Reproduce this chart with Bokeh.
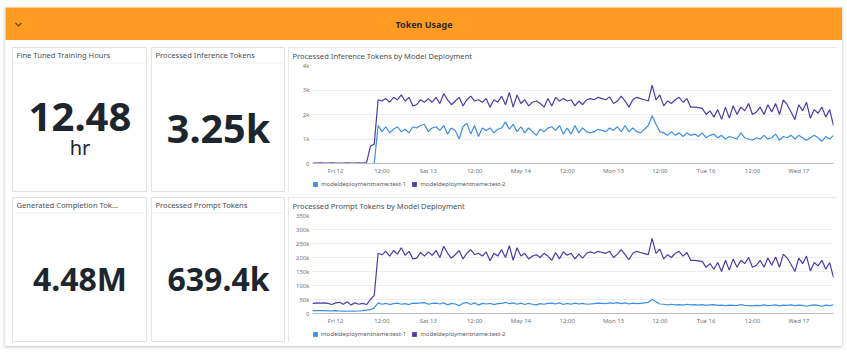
from bokeh.plotting import figure
from bokeh.layouts import column, row
from bokeh.models import Range1d, FixedTicker, Legend, LegendItem
from bokeh.core.properties import value
from bokeh.embed import file_html
from bokeh.resources import INLINE

FONT = "Noto Sans"
BLUE = "#3d8fe4"
PURPLE = "#4f3ba9"
ORANGE = "#ff9b23"
BORDER = "#dfe2e6"
NAN = float("nan")

# ---------------- data ----------------
HOURS = list(range(-6, 130))  # hours since Fri 12 00:00 (May 2023)

INF_TEST1 = [
    0, 0, 0, 0, 0, 0, 0, 0, 0, 0, 0, 0, 0, 0, 0,
    0, 0,
    1550, 1300, 1500, 1250, 1400, 1500, 1300, 1400, 1250, 1500,
    1450, 1550, 1600, 1300, 1450, 1500, 1350, 1550, 1200, 1450,
    1350, 1000, 1500, 1650, 1200, 1550, 1100, 1450, 1350, 1450,
    1250, 1400, 1450, 1700, 1400, 1600, 1300, 1500, 1250, 1450,
    1300, 1150, 1400, 1300, 1450, 1500, 1350, 1550, 1200,
    1450, 1200, 1550, 1250, 1450, 1300, 1250, 1300, 1400, 1350,
    1300, 1450, 1350, 1500, 1300, 1550, 1300, 1450, 1300, 1250,
    1400, 1550, 1950, 1600, 1300, 1250, 1150, 1300, 1150, 1250,
    1100, 1250, 1150, 1200, 1100, 1250, 1050, 1150, 1200, 1050,
    1150, 1000, 1100, 1050, 1000, 1250, 1050, 1000, 950, 1050,
    1000, 1150, 1000, 1050, 1200, 950, 1100, 1050, 1150, 1000,
    1150, 1050, 950, 1050, 1150, 1050, 900, 1100, 1000, 1150,
]

INF_TEST2 = [
    20, 20, 30, 20, 20, 30, 20, 20, 20, 30, 20, 20, 30, 20, 40,
    700, 800,
    2600, 2550, 2650, 2500, 2700, 2600, 2800, 2550, 2700, 2350,
    2400, 2600, 2500, 2650, 2500, 2700, 2450, 2850, 2600, 2400,
    2550, 2700, 2350, 2600, 2750, 2550, 2600, 2500, 2650, 2300,
    2600, 2500, 2750, 2400, 2900, 2300, 2800, 2450, 2600, 2350,
    2500, 2550, 2450, 2300, 2650, 2350, 2700, 2550, 2650,
    2550, 2600, 2350, 2550, 2400, 2600, 2650, 2600, 2700, 2650,
    2600, 2720, 2450, 2550, 2750, 2550, 2300, 2600, 2700, 2650,
    2600, 2550, 3200, 2600, 2800, 2350, 2550, 2450, 2600, 2700,
    2500, 2650, 2300, 2300, 2280, 2250, 2000, 2150, 1900, 2200,
    1800, 2300, 1850, 2350, 2000, 2300, 2150, 2450, 2000, 2100,
    2300, 2000, 2400, 2100, 2450, 2000, 2600, 2400, 2100, 1800,
    2400, 2150, 2500, 1850, 2200, 2050, 2300, 1900, 2200, 1550,
]

PROMPT_TEST1 = [
    10000, 10000, 10500, 10000, 9500, 9500, 10000, 9000, 8500, 8000,
    8500, 8000, 9000, 10000, 12000,
    14000, 20000,
    38000, 33000, 36000, 32000, 35000, 37000, 33000, 35000, 32000, 37000,
    36000, 38000, 39000, 33000, 36000, 37000, 34000, 38000, 31000, 36000,
    34000, 28000, 37000, 39000, 32000, 38000, 30000, 36000, 34000, 36000,
    32000, 35000, 36000, 40000, 35000, 38000, 33000, 37000, 32000, 36000,
    33000, 31000, 35000, 33000, 36000, 37000, 34000, 38000, 32000,
    36000, 33000, 37000, 34000, 36000, 33000, 34000, 35000, 37000, 36000,
    35000, 38000, 36000, 39000, 35000, 38000, 34000, 37000, 35000, 36000,
    38000, 40000, 50000, 42000, 34000, 33000, 31000, 33000, 31000, 32000,
    30000, 33000, 31000, 32000, 30000, 32000, 29000, 31000, 32000, 29000,
    30000, 28000, 30000, 29000, 28000, 32000, 29000, 28000, 27000, 29000,
    28000, 31000, 28000, 29000, 31000, 27000, 30000, 29000, 31000, 28000,
    30000, 29000, 26000, 29000, 31000, 29000, 26000, 30000, 28000, 31000,
]

PROMPT_TEST2 = [
    35000, 38000, 37000, 38000, 36000, 32000, 38000, 40000, 33000, 42000,
    30000, 38000, 33000, 36000, 32000,
    50000, 65000,
    215000, 210000, 222000, 205000, 225000, 212000, 235000, 208000, 222000, 195000,
    198000, 218000, 205000, 220000, 208000, 225000, 200000, 240000, 215000, 198000,
    210000, 225000, 195000, 215000, 228000, 210000, 215000, 205000, 220000, 188000,
    215000, 205000, 228000, 200000, 242000, 190000, 235000, 205000, 215000, 195000,
    205000, 210000, 200000, 215000, 205000, 190000, 218000, 195000, 220000,
    208000, 215000, 195000, 212000, 198000, 215000, 220000, 215000, 222000, 218000,
    215000, 222000, 200000, 212000, 228000, 210000, 192000, 215000, 222000, 218000,
    214000, 210000, 268000, 215000, 230000, 195000, 210000, 200000, 215000, 222000,
    205000, 218000, 190000, 190000, 188000, 186000, 165000, 178000, 158000, 182000,
    150000, 190000, 155000, 195000, 165000, 190000, 178000, 200000, 165000, 172000,
    190000, 165000, 198000, 172000, 202000, 165000, 212000, 198000, 175000, 150000,
    198000, 178000, 205000, 152000, 182000, 170000, 190000, 158000, 182000, 128000,
]

X_TICKS = [0, 12, 24, 36, 48, 60, 72, 84, 96, 108, 120]
X_LABELS = ["Fri 12", "12:00", "Sat 13", "12:00", "May 14", "12:00",
            "Mon 15", "12:00", "Tue 16", "12:00", "Wed 17"]
INF_Y_TICKS = [0, 1000, 2000, 3000, 4000]
INF_Y_LABELS = ["0", "1k", "2k", "3k", "4k"]
PROMPT_Y_TICKS = [0, 50000, 100000, 150000, 200000, 250000, 300000, 350000]
PROMPT_Y_LABELS = ["0", "50k", "100k", "150k", "200k", "250k", "300k", "350k"]

SERIES_NAMES = ["modeldeploymentname:test-1", "modeldeploymentname:test-2"]
STAT_TITLES = ["Fine Tuned Training Hours", "Processed Inference Tokens",
               "Generated Completion Tok...", "Processed Prompt Tokens"]
STAT_VALUES = ["12.48", "3.25k", "4.48M", "639.4k"]
STAT_UNITS = ["hr", "", "", ""]

for arr in (INF_TEST1, INF_TEST2, PROMPT_TEST1, PROMPT_TEST2):
    assert len(arr) == len(HOURS), len(arr)


# ---------------- helpers ----------------
def blank_fig(w, h, bg="white", **kw):
    p = figure(width=w, height=h, x_range=Range1d(0, w), y_range=Range1d(h, 0),
               output_backend="svg", toolbar_location=None, min_border=0,
               x_axis_location=None, y_axis_location=None, **kw)
    p.grid.visible = False
    p.background_fill_color = bg
    p.border_fill_color = bg
    p.outline_line_color = None
    return p


def stat_tile(w, title, val, size, ymid, unit="", unit_mid=0):
    p = blank_fig(w, 145)
    p.outline_line_color = BORDER
    p.text(x=[4], y=[7.5], text=[title], text_font=value(FONT), text_font_size="7.6px",
           text_color="#4a4f56", text_baseline="middle")
    p.segment(x0=[1], y0=[15.5], x1=[w - 1], y1=[15.5], line_color="#eef0f3", line_width=1)
    p.text(x=[w / 2], y=[ymid], text=[val], text_font=value(FONT),
           text_font_size=f"{size}px", text_font_style="bold", text_align="center",
           text_baseline="middle", text_color="#1d252e")
    if unit:
        p.text(x=[w / 2], y=[unit_mid], text=[unit], text_font=value(FONT),
               text_font_size="20px", text_align="center", text_baseline="middle",
               text_color="#1d252e")
    return p


def chart_tile(title, s1, s2, yticks, ylabels, ymax):
    p = figure(width=549, height=130, x_range=Range1d(HOURS[0], HOURS[-1]),
               y_range=Range1d(0, ymax), output_backend="svg", toolbar_location=None,
               min_border_left=24, min_border_right=4, min_border_top=18,
               min_border_bottom=12, title=title)
    p.title.text_font = FONT
    p.title.text_font_size = "7.6px"
    p.title.text_font_style = "normal"
    p.title.text_color = "#4a4f56"
    p.title.align = "left"
    p.title.vertical_align = "top"
    p.title.offset = -20
    p.title.standoff = 5

    p.background_fill_color = "white"
    p.border_fill_color = "white"
    p.outline_line_color = None
    p.xgrid.visible = False
    p.ygrid.grid_line_color = "#eceef1"
    p.ygrid.ticker = FixedTicker(ticks=yticks)

    p.xaxis.ticker = FixedTicker(ticks=X_TICKS)
    p.xaxis.major_label_overrides = {t: l for t, l in zip(X_TICKS, X_LABELS)}
    p.yaxis.ticker = FixedTicker(ticks=yticks)
    p.yaxis.major_label_overrides = {t: l for t, l in zip(yticks, ylabels)}
    for ax in (p.xaxis, p.yaxis):
        ax.major_tick_line_color = None
        ax.minor_tick_line_color = None
        ax.major_tick_in = 0
        ax.major_tick_out = 0
        ax.minor_tick_in = 0
        ax.minor_tick_out = 0
        ax.major_label_text_font = FONT
        ax.major_label_text_font_size = "6px"
        ax.major_label_text_color = "#6f757c"
        ax.major_label_standoff = 3
    p.yaxis.axis_line_color = None
    p.xaxis.axis_line_color = "#b9bdc3"

    p.line(HOURS, s1, line_color=BLUE, line_width=1.2)
    p.line(HOURS, s2, line_color=PURPLE, line_width=1.2)

    # legend strip below the chart; proxies carry only NaN (nothing drawn)
    leg = blank_fig(549, 15, min_border_left=24, min_border_right=4)
    q1 = leg.quad(left=[NAN], right=[NAN], top=[NAN], bottom=[NAN], fill_color=BLUE, line_color=None)
    q2 = leg.quad(left=[NAN], right=[NAN], top=[NAN], bottom=[NAN], fill_color=PURPLE, line_color=None)
    legend = Legend(items=[LegendItem(label=SERIES_NAMES[0], renderers=[q1]),
                           LegendItem(label=SERIES_NAMES[1], renderers=[q2])],
                    orientation="horizontal", location=(0, 4))
    legend.label_text_font = FONT
    legend.label_text_font_size = "6px"
    legend.label_text_color = "#555b62"
    legend.label_height = 6
    legend.label_standoff = 3
    legend.glyph_width = 6
    legend.glyph_height = 6
    legend.spacing = 5
    legend.padding = 0
    legend.margin = 0
    legend.border_line_color = None
    legend.background_fill_alpha = 0
    leg.add_layout(legend)

    return column(p, leg, spacing=0,
                  styles={"outline": f"1px solid {BORDER}", "outline-offset": "-1px"})


# ---------------- layout ----------------
header = blank_fig(837, 33, bg=ORANGE)
header.line(x=[10, 13, 16], y=[15.5, 18.5, 15.5], line_color="#6b4a1c", line_width=1.2)
header.text(x=[418.5], y=[17], text=["Token Usage"], text_font=value(FONT),
            text_font_size="9px", text_font_style="bold", text_align="center",
            text_baseline="middle", text_color="#2e2a25")

t1 = stat_tile(135, STAT_TITLES[0], STAT_VALUES[0], 40, 69.5, STAT_UNITS[0], 100)
t2 = stat_tile(134, STAT_TITLES[1], STAT_VALUES[1], 39.5, 80)
t3 = stat_tile(135, STAT_TITLES[2], STAT_VALUES[2], 32, 81)
t4 = stat_tile(134, STAT_TITLES[3], STAT_VALUES[3], 32, 81)

c1 = chart_tile("Processed Inference Tokens by Model Deployment",
                INF_TEST1, INF_TEST2, INF_Y_TICKS, INF_Y_LABELS, 4000)
c2 = chart_tile("Processed Prompt Tokens by Model Deployment",
                PROMPT_TEST1, PROMPT_TEST2, PROMPT_Y_TICKS, PROMPT_Y_LABELS, 350000)

left = column(row(t1, t2, spacing=4), row(t3, t4, spacing=4), spacing=5)
right = column(c1, c2, spacing=5)
body = row(left, right, spacing=3, margin=(7, 5, 4, 7))
group = column(header, body, spacing=0,
               styles={"background-color": "white",
                       "box-shadow": "0 1px 3px rgba(0,0,0,0.25)"})
root = column(group, margin=(7, 5, 0, 5))

open("out.html", "w").write(file_html(root, INLINE))
